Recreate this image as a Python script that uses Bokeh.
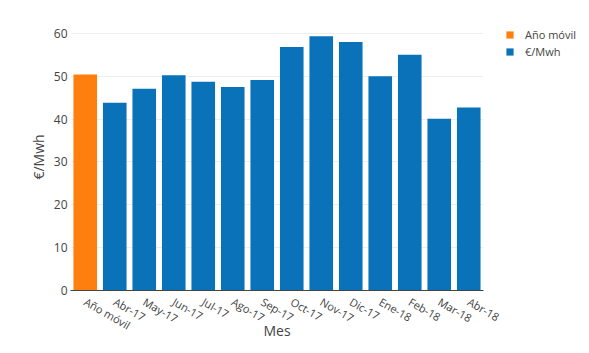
import math
from bokeh.plotting import figure
from bokeh.models import ColumnDataSource, FactorRange, Range1d, Legend, LegendItem
from bokeh.embed import file_html
from bokeh.resources import INLINE

# ---- data ----
moving_label = ["Año móvil"]
moving_value = [50.4]
months = ["Abr-17", "May-17", "Jun-17", "Jul-17", "Ago-17", "Sep-17", "Oct-17",
          "Nov-17", "Dic-17", "Ene-18", "Feb-18", "Mar-18", "Abr-18"]
month_values = [43.8, 47.1, 50.2, 48.7, 47.5, 49.1, 56.8, 59.3, 58.0, 50.0, 55.0, 40.1, 42.7]
y_ticks = [0, 10, 20, 30, 40, 50, 60]
series_names = ["Año móvil", "€/Mwh"]

categories = moving_label + months
FONT = "Open Sans"
TXT = "#444444"

p = figure(frame_width=413, frame_height=267, output_backend="svg", toolbar_location=None,
           x_range=FactorRange(*categories, range_padding=0), y_range=Range1d(0, 62.3),
           min_border_left=70, min_border_right=106, min_border_top=23, min_border_bottom=63)

src_m = ColumnDataSource(dict(x=moving_label, top=moving_value))
src_b = ColumnDataSource(dict(x=months, top=month_values))
r1 = p.vbar(x="x", top="top", width=0.8, source=src_m, color="#ff7f0e", line_color=None)
r2 = p.vbar(x="x", top="top", width=0.8, source=src_b, color="#0a72b8", line_color=None)

p.outline_line_color = None
p.background_fill_color = "white"
p.border_fill_color = "white"
p.xgrid.grid_line_color = None
p.ygrid.grid_line_color = "#eeeeee"
p.ygrid.ticker = y_ticks

p.yaxis.ticker = y_ticks
p.yaxis.axis_line_color = None
p.yaxis.major_tick_line_color = None
p.yaxis.minor_tick_line_color = None
p.yaxis.major_tick_out = 0
p.yaxis.minor_tick_out = 0
p.yaxis.major_label_standoff = 3
p.yaxis.axis_label = "€/Mwh"
p.yaxis.axis_label_standoff = 3

p.xaxis.axis_line_color = "#444444"
p.xaxis.major_tick_line_color = None
p.xaxis.minor_tick_line_color = None
p.xaxis.major_label_orientation = -math.pi / 6
p.xaxis.major_label_standoff = 4
p.xaxis.axis_label = "Mes"
p.xaxis.axis_label_standoff = -21

for ax in (p.xaxis[0], p.yaxis[0]):
    ax.major_label_text_font = FONT
    ax.major_label_text_color = TXT
    ax.axis_label_text_font = FONT
    ax.axis_label_text_font_size = "14px"
    ax.axis_label_text_font_style = "normal"
    ax.axis_label_text_color = TXT
p.yaxis.major_label_text_font_size = "12px"
p.xaxis.major_label_text_font_size = "11px"

legend = Legend(items=[LegendItem(label=series_names[0], renderers=[r1]),
                       LegendItem(label=series_names[1], renderers=[r2])],
                location=(22, 230), orientation="vertical",
                glyph_width=9, glyph_height=9, label_height=17, spacing=0,
                label_standoff=11, padding=0, margin=0,
                border_line_color=None, background_fill_alpha=0,
                label_text_font=FONT, label_text_font_size="11px", label_text_color=TXT)
p.add_layout(legend, "right")

open("out.html", "w").write(file_html(p, INLINE))
